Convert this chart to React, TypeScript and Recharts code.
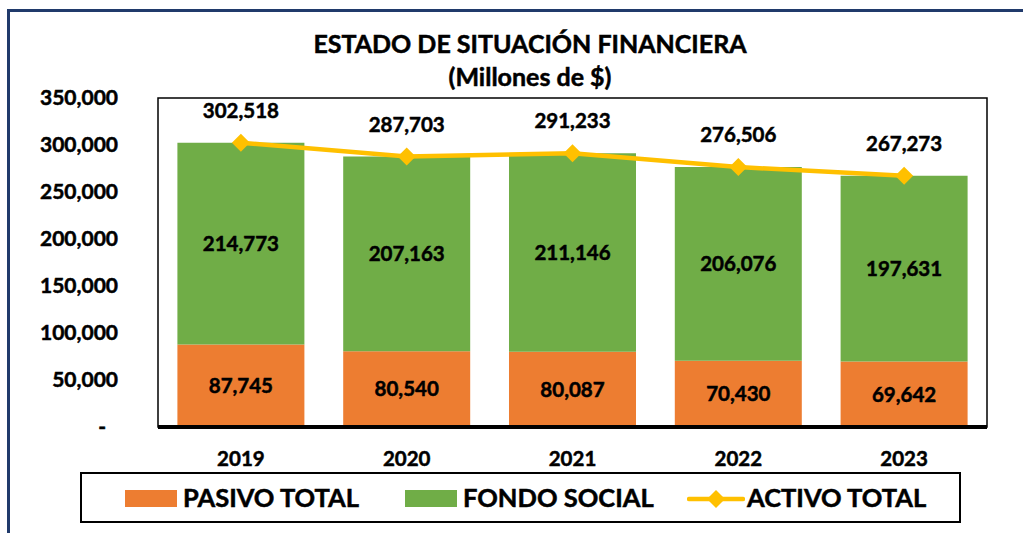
import { ComposedChart, Bar, Line, XAxis, YAxis, LabelList, ReferenceArea } from 'recharts';

const YEARS = ['2019', '2020', '2021', '2022', '2023'];
const PASIVO_TOTAL = [87745, 80540, 80087, 70430, 69642];
const FONDO_SOCIAL = [214773, 207163, 211146, 206076, 197631];
const ACTIVO_TOTAL = [302518, 287703, 291233, 276506, 267273];
const Y_TICKS = [0, 50000, 100000, 150000, 200000, 250000, 300000, 350000];

const FONT = 'Lato, "Open Sans", sans-serif';
const ORANGE = '#ED7D31';
const GREEN = '#70AD47';
const GOLD = '#FFC000';

const chartData = YEARS.map((year, i) => ({
  year,
  pasivo: PASIVO_TOTAL[i],
  fondo: FONDO_SOCIAL[i],
  activo: ACTIVO_TOTAL[i],
}));

const fmt = (v: number) => v.toLocaleString('en-US');

// Lato bold is a bit lighter than the original, so a thin stroke thickens it
const heavy = { stroke: '#000', strokeWidth: 0.5, paintOrder: 'stroke' as const };

function YTick({ x, y, payload }: any) {
  const zero = payload.value === 0;
  return (
    <text
      x={zero ? x - 12 : x}
      y={y}
      dy={7}
      textAnchor="end"
      fontSize={21}
      fontWeight={700}
      fontFamily={FONT}
      fill="#000"
      {...heavy}
    >
      {zero ? '-' : fmt(payload.value)}
    </text>
  );
}

function Diamond({ cx, cy }: any) {
  if (cx == null || cy == null) return null;
  const r = 9;
  return (
    <polygon
      points={`${cx},${cy - r} ${cx + r},${cy} ${cx},${cy + r} ${cx - r},${cy}`}
      fill={GOLD}
    />
  );
}

const labelStyle = { fontSize: 20.5, fontWeight: 700, fontFamily: FONT, fill: '#000', ...heavy };

export default function App() {
  return (
    <div style={{ position: 'absolute', left: 0, top: 0, width: 1023, height: 533, overflow: 'hidden', background: '#fff', fontFamily: FONT }}>
      {/* outer frame */}
      <div style={{ position: 'absolute', left: 7, top: 9, width: 1100, height: 600, border: '3px solid #203A6B', boxSizing: 'border-box' }} />

      <div style={{ position: 'absolute', left: 0, top: 27, width: 1060, textAlign: 'center', fontWeight: 700, fontSize: 25, lineHeight: '33px', color: '#000', WebkitTextStroke: '0.5px #000' }}>
        ESTADO DE SITUACIÓN FINANCIERA
        <br />
        (Millones de $)
      </div>

      <div style={{ position: 'absolute', left: 0, top: 0 }}>
        <ComposedChart
          width={1023}
          height={533}
          data={chartData}
          margin={{ top: 98, right: 36, bottom: 66, left: 8 }}
          barCategoryGap="11.7%"
        >
          <XAxis
            dataKey="year"
            tickLine={false}
            tickSize={0}
            tickMargin={24}
            height={40}
            axisLine={{ stroke: '#000', strokeWidth: 4 }}
            tick={{ fontSize: 20.5, fontWeight: 700, fontFamily: FONT, fill: '#000', ...heavy }}
          />
          <YAxis
            width={150}
            domain={[0, 350000]}
            ticks={Y_TICKS}
            interval={0}
            axisLine={false}
            tickLine={false}
            tickSize={0}
            tickMargin={40}
            tick={<YTick />}
          />
          <ReferenceArea y1={0} y2={350000} fill="none" stroke="#000" strokeWidth={1.5} ifOverflow="visible" />
          <Bar dataKey="pasivo" stackId="a" fill={ORANGE} isAnimationActive={false}>
            <LabelList dataKey="pasivo" position="center" formatter={(v: any) => fmt(Number(v))} style={labelStyle} />
          </Bar>
          <Bar dataKey="fondo" stackId="a" fill={GREEN} isAnimationActive={false}>
            <LabelList dataKey="fondo" position="center" formatter={(v: any) => fmt(Number(v))} style={labelStyle} />
          </Bar>
          <Line
            dataKey="activo"
            type="linear"
            stroke={GOLD}
            strokeWidth={4.5}
            dot={<Diamond />}
            activeDot={false}
            isAnimationActive={false}
          >
            <LabelList dataKey="activo" position="top" offset={25} formatter={(v: any) => fmt(Number(v))} style={labelStyle} />
          </Line>
        </ComposedChart>
      </div>

      {/* legend */}
      <div style={{ position: 'absolute', left: 80, top: 472, width: 881, height: 51, border: '2.5px solid #000', boxSizing: 'border-box', fontWeight: 700, fontSize: 25.5, color: '#000', WebkitTextStroke: '0.5px #000' }}>
        <div style={{ position: 'absolute', left: 43, top: 16, width: 52, height: 17, background: ORANGE }} />
        <div style={{ position: 'absolute', left: 101, top: 7, lineHeight: '32px' }}>PASIVO TOTAL</div>
        <div style={{ position: 'absolute', left: 323, top: 16, width: 52, height: 17, background: GREEN }} />
        <div style={{ position: 'absolute', left: 381, top: 7, lineHeight: '32px' }}>FONDO SOCIAL</div>
        <svg style={{ position: 'absolute', left: 605, top: 14 }} width={58} height={22}>
          <line x1={2} y1={11} x2={56} y2={11} stroke={GOLD} strokeWidth={4.5} strokeLinecap="round" />
          <polygon points="29,2 38,11 29,20 20,11" fill={GOLD} />
        </svg>
        <div style={{ position: 'absolute', left: 665, top: 7, lineHeight: '32px' }}>ACTIVO TOTAL</div>
      </div>
    </div>
  );
}
